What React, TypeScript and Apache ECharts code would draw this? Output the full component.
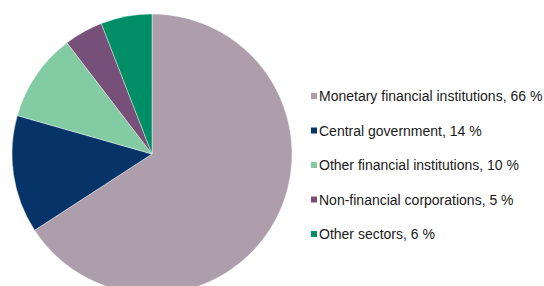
import React, { useEffect, useRef } from "react";
import * as echarts from "echarts";

const categories = [
  "Monetary financial institutions",
  "Central government",
  "Other financial institutions",
  "Non-financial corporations",
  "Other sectors",
];
const percentLabels = ["66 %", "14 %", "10 %", "5 %", "6 %"];
const values = [65.9, 13.6, 10.2, 4.5, 5.9];
const colors = ["#ae9eac", "#063468", "#82cba3", "#765078", "#008e66"];

export default function App() {
  const ref = useRef<HTMLDivElement>(null);
  useEffect(() => {
    if (!ref.current) return;
    const chart = echarts.init(ref.current, undefined, { renderer: "svg" });
    const names = categories.map((c, i) => `${c}, ${percentLabels[i]}`);
    chart.setOption({
      animation: false,
      backgroundColor: "#ffffff",
      legend: {
        orient: "vertical",
        left: 309,
        top: 89,
        itemWidth: 8,
        itemHeight: 8,
        itemGap: 20.5,
        icon: "rect",
        padding: 0,
        textStyle: {
          fontFamily: "'Liberation Sans', Arial, sans-serif",
          fontSize: 14,
          color: "#1a1a1a",
          padding: [0, 0, 0, -4],
        },
        data: names,
      },
      series: [
        {
          type: "pie",
          center: [152, 154],
          radius: 140,
          startAngle: 90,
          clockwise: true,
          label: { show: false },
          labelLine: { show: false },
          emphasis: { disabled: true },
          itemStyle: { borderColor: "#ffffff", borderWidth: 0.4 },
          data: names.map((n, i) => ({
            name: n,
            value: values[i],
            itemStyle: { color: colors[i] },
          })),
        },
      ],
    });
    return () => chart.dispose();
  }, []);
  return (
    <div
      ref={ref}
      style={{ position: "fixed", left: 0, top: 0, width: 544, height: 286 }}
    />
  );
}
